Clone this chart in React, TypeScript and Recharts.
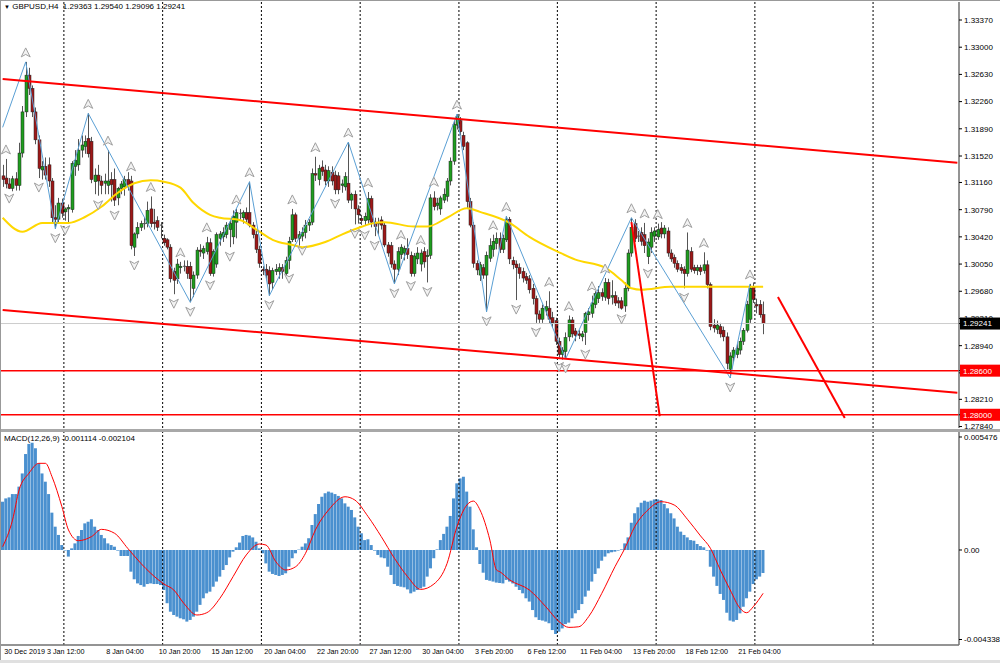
import React from "react";
import { ComposedChart, Bar, Line, Scatter, XAxis, YAxis, ReferenceLine } from "recharts";

// GBPUSD H4 candles: [open, high, low, close]
const ohlc: [number, number, number, number][] = [
  [1.3125, 1.3140, 1.3110, 1.3120], [1.3122, 1.3148, 1.3108, 1.3114], [1.3114, 1.3122, 1.3107, 1.3108], [1.3108, 1.3125, 1.3104, 1.3121], [1.3121, 1.3130, 1.3105, 1.3112],
  [1.3112, 1.3170, 1.3105, 1.3156], [1.3156, 1.3220, 1.3150, 1.3212], [1.3212, 1.3280, 1.3205, 1.3262], [1.3262, 1.3272, 1.3235, 1.3244], [1.3244, 1.3248, 1.3205, 1.3212],
  [1.3212, 1.3218, 1.3168, 1.3174], [1.3174, 1.3180, 1.3122, 1.3135], [1.3133, 1.3145, 1.3120, 1.3138], [1.3138, 1.3150, 1.3120, 1.3126], [1.3140, 1.3150, 1.3110, 1.3118],
  [1.3118, 1.3122, 1.3060, 1.3068], [1.3068, 1.3085, 1.3053, 1.3066], [1.3066, 1.3095, 1.3060, 1.3088], [1.3088, 1.3094, 1.3068, 1.3074], [1.3076, 1.3082, 1.3064, 1.3080],
  [1.3080, 1.3086, 1.3062, 1.3082], [1.3079, 1.3145, 1.3075, 1.3142], [1.3138, 1.3160, 1.3125, 1.3146], [1.3140, 1.3175, 1.3132, 1.3160], [1.3160, 1.3180, 1.3150, 1.3167],
  [1.3165, 1.3180, 1.3155, 1.3172], [1.3176, 1.3210, 1.3150, 1.3155], [1.3172, 1.3178, 1.3115, 1.3120], [1.3117, 1.3135, 1.3100, 1.3126], [1.3126, 1.3140, 1.3098, 1.3118],
  [1.3118, 1.3125, 1.3100, 1.3112], [1.3115, 1.3128, 1.3100, 1.3118], [1.3112, 1.3160, 1.3100, 1.3118], [1.3120, 1.3130, 1.3090, 1.3113], [1.3120, 1.3135, 1.3084, 1.3092],
  [1.3095, 1.3110, 1.3085, 1.3108], [1.3108, 1.3118, 1.3100, 1.3114], [1.3110, 1.3125, 1.3098, 1.3120], [1.3120, 1.3130, 1.3105, 1.3112], [1.3118, 1.3125, 1.3025, 1.3030],
  [1.3028, 1.3048, 1.3016, 1.3046], [1.3046, 1.3062, 1.3040, 1.3055], [1.3055, 1.3064, 1.3050, 1.3060], [1.3059, 1.3068, 1.3052, 1.3060], [1.3060, 1.3090, 1.3055, 1.3078],
  [1.3080, 1.3097, 1.3055, 1.3060], [1.3062, 1.3080, 1.3052, 1.3060], [1.3064, 1.3070, 1.3050, 1.3055], [1.3058, 1.3062, 1.3040, 1.3058], [1.3040, 1.3045, 1.3030, 1.3034],
  [1.3038, 1.3040, 1.3025, 1.3028], [1.3028, 1.3032, 1.2980, 1.2985], [1.2995, 1.3000, 1.2964, 1.2983], [1.2985, 1.3012, 1.2978, 1.3005], [1.3000, 1.3008, 1.2992, 1.3002],
  [1.3002, 1.3010, 1.2995, 1.3001], [1.3002, 1.3010, 1.2985, 1.2992], [1.3002, 1.3008, 1.2953, 1.2985], [1.2972, 1.2995, 1.2960, 1.2990], [1.2990, 1.3028, 1.2985, 1.3024],
  [1.3024, 1.3032, 1.3015, 1.3022], [1.3020, 1.3030, 1.3012, 1.3026], [1.3022, 1.3042, 1.3018, 1.3034], [1.3034, 1.3040, 1.2989, 1.2992], [1.2992, 1.3025, 1.2988, 1.3022],
  [1.3005, 1.3048, 1.3000, 1.3045], [1.3040, 1.3050, 1.3030, 1.3046], [1.3042, 1.3055, 1.3035, 1.3048], [1.3045, 1.3062, 1.3040, 1.3058], [1.3052, 1.3065, 1.3028, 1.3060],
  [1.3042, 1.3078, 1.3032, 1.3070], [1.3062, 1.3080, 1.3040, 1.3075], [1.3073, 1.3080, 1.3065, 1.3074], [1.3068, 1.3078, 1.3060, 1.3075], [1.3075, 1.3082, 1.3062, 1.3066],
  [1.3075, 1.3117, 1.3055, 1.3058], [1.3058, 1.3062, 1.3040, 1.3045], [1.3045, 1.3050, 1.3020, 1.3025], [1.3025, 1.3030, 1.3000, 1.3006], [1.2998, 1.3002, 1.2990, 1.2996],
  [1.2998, 1.3005, 1.2985, 1.2990], [1.2996, 1.3002, 1.2962, 1.2978], [1.2980, 1.3000, 1.2970, 1.2996], [1.2995, 1.3005, 1.2990, 1.2998], [1.2995, 1.3006, 1.2985, 1.3000],
  [1.3000, 1.3005, 1.2985, 1.2995], [1.2992, 1.3015, 1.2985, 1.3010], [1.3010, 1.3042, 1.2998, 1.3036], [1.3038, 1.3080, 1.3035, 1.3072], [1.3072, 1.3075, 1.3035, 1.3040],
  [1.3040, 1.3050, 1.3030, 1.3045], [1.3043, 1.3055, 1.3036, 1.3048], [1.3048, 1.3065, 1.3040, 1.3058], [1.3058, 1.3066, 1.3050, 1.3062], [1.3062, 1.3135, 1.3058, 1.3128],
  [1.3128, 1.3151, 1.3118, 1.3126], [1.3120, 1.3140, 1.3112, 1.3135], [1.3137, 1.3146, 1.3125, 1.3131], [1.3133, 1.3140, 1.3112, 1.3118], [1.3118, 1.3138, 1.3110, 1.3132],
  [1.3130, 1.3138, 1.3112, 1.3118], [1.3126, 1.3132, 1.3100, 1.3106], [1.3125, 1.3130, 1.3100, 1.3106], [1.3112, 1.3120, 1.3102, 1.3114], [1.3110, 1.3130, 1.3105, 1.3124],
  [1.3115, 1.3171, 1.3088, 1.3092], [1.3092, 1.3102, 1.3080, 1.3100], [1.3100, 1.3105, 1.3059, 1.3080], [1.3080, 1.3085, 1.3060, 1.3072], [1.3067, 1.3072, 1.3058, 1.3064],
  [1.3064, 1.3075, 1.3057, 1.3070], [1.3065, 1.3103, 1.3060, 1.3094], [1.3094, 1.3098, 1.3055, 1.3062], [1.3062, 1.3068, 1.3043, 1.3056], [1.3060, 1.3068, 1.3045, 1.3060],
  [1.3065, 1.3070, 1.3052, 1.3058], [1.3058, 1.3062, 1.3028, 1.3031], [1.3031, 1.3035, 1.3015, 1.3020], [1.3030, 1.3035, 1.3000, 1.3005], [1.3005, 1.3010, 1.2978, 1.2998],
  [1.2998, 1.3028, 1.2990, 1.3022], [1.3018, 1.3032, 1.3012, 1.3028], [1.3020, 1.3030, 1.3010, 1.3026], [1.3026, 1.3040, 1.3012, 1.3018], [1.3017, 1.3022, 1.2988, 1.2992],
  [1.2992, 1.3020, 1.2988, 1.3016], [1.3012, 1.3028, 1.3005, 1.3020], [1.3005, 1.3025, 1.2995, 1.3020], [1.3022, 1.3028, 1.3000, 1.3008], [1.3015, 1.3025, 1.2980, 1.3017],
  [1.3017, 1.3100, 1.3012, 1.3095], [1.3095, 1.3104, 1.3078, 1.3083], [1.3085, 1.3095, 1.3078, 1.3088], [1.3080, 1.3098, 1.3072, 1.3095], [1.3092, 1.3108, 1.3088, 1.3100],
  [1.3097, 1.3122, 1.3090, 1.3118], [1.3118, 1.3150, 1.3112, 1.3145], [1.3145, 1.3200, 1.3140, 1.3195], [1.3194, 1.3209, 1.3188, 1.3206], [1.3200, 1.3205, 1.3180, 1.3185],
  [1.3180, 1.3185, 1.3160, 1.3165], [1.3170, 1.3172, 1.3080, 1.3090], [1.3090, 1.3095, 1.3055, 1.3058], [1.3058, 1.3062, 1.3000, 1.3006], [1.3006, 1.3010, 1.2990, 1.2997],
  [1.2990, 1.3008, 1.2982, 1.3004], [1.3000, 1.3005, 1.2985, 1.2990], [1.2990, 1.3022, 1.2940, 1.3017], [1.3013, 1.3040, 1.3008, 1.3030], [1.3025, 1.3045, 1.3015, 1.3036],
  [1.3033, 1.3048, 1.3025, 1.3040], [1.3040, 1.3048, 1.3020, 1.3025], [1.3025, 1.3045, 1.3020, 1.3040], [1.3038, 1.3070, 1.3035, 1.3066], [1.3066, 1.3069, 1.3005, 1.3012],
  [1.3010, 1.3015, 1.2998, 1.3004], [1.3005, 1.3010, 1.2956, 1.3000], [1.3000, 1.3006, 1.2985, 1.2992], [1.2995, 1.3000, 1.2980, 1.2986], [1.2988, 1.2993, 1.2978, 1.2983],
  [1.2985, 1.2990, 1.2965, 1.2970], [1.2972, 1.2978, 1.2950, 1.2958], [1.2958, 1.2962, 1.2925, 1.2937], [1.2937, 1.2942, 1.2925, 1.2930], [1.2930, 1.2950, 1.2925, 1.2945],
  [1.2942, 1.2955, 1.2935, 1.2947], [1.2945, 1.2968, 1.2925, 1.2930], [1.2932, 1.2940, 1.2918, 1.2925], [1.2928, 1.2932, 1.2895, 1.2900], [1.2900, 1.2905, 1.2878, 1.2882],
  [1.2882, 1.2892, 1.2875, 1.2888], [1.2886, 1.2912, 1.2876, 1.2905], [1.2906, 1.2935, 1.2900, 1.2929], [1.2929, 1.2933, 1.2905, 1.2910], [1.2914, 1.2918, 1.2900, 1.2908],
  [1.2910, 1.2915, 1.2903, 1.2908], [1.2906, 1.2914, 1.2900, 1.2910], [1.2912, 1.2940, 1.2895, 1.2938], [1.2936, 1.2945, 1.2928, 1.2940], [1.2938, 1.2962, 1.2932, 1.2952],
  [1.2950, 1.2968, 1.2945, 1.2965], [1.2958, 1.2975, 1.2952, 1.2966], [1.2966, 1.2972, 1.2955, 1.2961], [1.2960, 1.2986, 1.2955, 1.2980], [1.2980, 1.2985, 1.2950, 1.2958],
  [1.2960, 1.2983, 1.2950, 1.2962], [1.2962, 1.2968, 1.2948, 1.2952], [1.2955, 1.2960, 1.2945, 1.2952], [1.2955, 1.2960, 1.2943, 1.2945], [1.2948, 1.2980, 1.2940, 1.2972],
  [1.2972, 1.3025, 1.2968, 1.3020], [1.3020, 1.3068, 1.3015, 1.3055], [1.3060, 1.3066, 1.3035, 1.3040], [1.3042, 1.3050, 1.3035, 1.3043], [1.3048, 1.3055, 1.3030, 1.3036],
  [1.3045, 1.3061, 1.3020, 1.3030], [1.3015, 1.3040, 1.3005, 1.3035], [1.3028, 1.3055, 1.3020, 1.3048], [1.3043, 1.3055, 1.3035, 1.3050], [1.3042, 1.3060, 1.3038, 1.3052],
  [1.3054, 1.3062, 1.3040, 1.3046], [1.3046, 1.3058, 1.3040, 1.3054], [1.3050, 1.3055, 1.3015, 1.3020], [1.3020, 1.3025, 1.3008, 1.3012], [1.3014, 1.3018, 1.3000, 1.3006],
  [1.3006, 1.3010, 1.2994, 1.2998], [1.3000, 1.3005, 1.2992, 1.2996], [1.2998, 1.3002, 1.2972, 1.2992], [1.2992, 1.3048, 1.2988, 1.3024], [1.3022, 1.3028, 1.2994, 1.2998],
  [1.3000, 1.3004, 1.2992, 1.2996], [1.2996, 1.3004, 1.2990, 1.3000], [1.3000, 1.3004, 1.2990, 1.2995], [1.2996, 1.3021, 1.2992, 1.3004], [1.3004, 1.3010, 1.2972, 1.2977],
  [1.2977, 1.2980, 1.2915, 1.2920], [1.2922, 1.2930, 1.2912, 1.2918], [1.2916, 1.2928, 1.2910, 1.2922], [1.2920, 1.2925, 1.2905, 1.2910], [1.2915, 1.2920, 1.2900, 1.2906],
  [1.2906, 1.2912, 1.2862, 1.2870], [1.2862, 1.2885, 1.2850, 1.2880], [1.2878, 1.2892, 1.2872, 1.2888], [1.2882, 1.2896, 1.2877, 1.2890], [1.2888, 1.2905, 1.2882, 1.2900],
  [1.2900, 1.2918, 1.2895, 1.2915], [1.2915, 1.2955, 1.2912, 1.2950], [1.2930, 1.2978, 1.2925, 1.2972], [1.2974, 1.2980, 1.2952, 1.2957], [1.2950, 1.2958, 1.2938, 1.2948],
  [1.2950, 1.2956, 1.2932, 1.2936], [1.29363, 1.2954, 1.29096, 1.29241],
];

// moving average (yellow), read as [bar, price]
const maPoints: [number, number][] = [
  [0, 1.3068], [6, 1.3049], [12, 1.3061], [20, 1.3061], [25, 1.3069], [30, 1.3083], [35, 1.3102], [40, 1.3115],
  [45, 1.3119], [49, 1.3117], [54, 1.3109], [58, 1.3088], [63, 1.3072], [66, 1.3068], [72, 1.3065], [78, 1.3049],
  [82, 1.3038], [88, 1.3031], [91, 1.3028], [98, 1.3035], [103, 1.3045], [108, 1.3054], [112, 1.3060], [116, 1.3062],
  [125, 1.3056], [129, 1.3056], [135, 1.3068], [141, 1.3081], [145, 1.3076], [154, 1.3061], [160, 1.3042], [169, 1.3021],
  [174, 1.3011], [183, 1.3000], [188, 1.2983], [191, 1.2972], [194, 1.2970], [203, 1.2974], [213, 1.2974], [223, 1.2974],
  [231, 1.2974],
];

const zigzag: [number, number][] = [
  [0, 1.3191], [7, 1.3280], [16, 1.3053], [26, 1.3210], [57, 1.2953], [75, 1.3117], [81, 1.2962], [105, 1.3171],
  [119, 1.2978], [138, 1.3209], [147, 1.2940], [153, 1.3070], [171, 1.2876], [191, 1.3068], [221, 1.2850], [227, 1.2978],
];

const upFractals: [number, number][] = [
  [1, 1.3148], [7, 1.3280], [26, 1.3210], [32, 1.3160], [39, 1.3125], [45, 1.3097], [54, 1.3008], [62, 1.3042],
  [71, 1.3080], [75, 1.3117], [88, 1.3080], [95, 1.3151], [105, 1.3171], [111, 1.3103], [121, 1.3032], [127, 1.3025],
  [131, 1.3104], [138, 1.3209], [149, 1.3045], [153, 1.3070], [166, 1.2968], [172, 1.2935], [179, 1.2962], [183, 1.2986],
  [191, 1.3068], [195, 1.3061], [199, 1.3060], [208, 1.3048], [213, 1.3021], [227, 1.2978],
];

const downFractals: [number, number][] = [
  [2, 1.3107], [11, 1.3122], [16, 1.3053], [19, 1.3064], [29, 1.3098], [34, 1.3084], [40, 1.3016], [52, 1.2964],
  [57, 1.2953], [63, 1.2989], [69, 1.3028], [81, 1.2962], [87, 1.2998], [91, 1.3036], [101, 1.3100], [107, 1.3059],
  [110, 1.3057], [113, 1.3043], [119, 1.2978], [124, 1.2988], [129, 1.2980], [147, 1.2940], [156, 1.2956], [162, 1.2925],
  [169, 1.2878], [171, 1.2876], [177, 1.2895], [188, 1.2943], [196, 1.3005], [207, 1.2972], [221, 1.2850],
];

// drawn objects: [bar1, price1, bar2, price2]
const trendLines: [number, number, number, number][] = [
  [0, 1.32567, 290, 1.31429],
  [0, 1.29425, 290, 1.28301],
  [191, 1.30622, 199.6, 1.2798],
  [235.5, 1.29602, 255.8, 1.27956],
];
const levels = [1.286, 1.28];
const lastPrice = 1.29241;

const macdHist: number[] = [
  0.00234, 0.0025, 0.00255, 0.00271, 0.00271, 0.00307, 0.00371, 0.00465, 0.00514, 0.0052,
  0.00493, 0.0042, 0.00371, 0.00331, 0.00271, 0.00181, 0.00113, 0.00073, 0.00024, -0.00003,
  -0.00032, 0.00008, 0.00032, 0.00068, 0.00097, 0.00129, 0.00137, 0.00149, 0.00113, 0.00097,
  0.00073, 0.00057, 0.00032, 0.00024, 0.00016, -0.00003, -0.00029, -0.00029, -0.00029, -0.00105,
  -0.00142, -0.00162, -0.0017, -0.00178, -0.00165, -0.00162, -0.00165, -0.00165, -0.0017, -0.00194,
  -0.00258, -0.00299, -0.00315, -0.00323, -0.00331, -0.00336, -0.00347, -0.00339, -0.00323, -0.00299,
  -0.00266, -0.00234, -0.0021, -0.00202, -0.00178, -0.00153, -0.00129, -0.00097, -0.00073, -0.00036,
  -0.00008, 0.00013, 0.00036, 0.00068, 0.00073, 0.0007, 0.00061, 0.0004, 0.00008, -0.00016,
  -0.00065, -0.00105, -0.00116, -0.00121, -0.00126, -0.00121, -0.00113, -0.00081, -0.0004, -0.00016,
  0.00002, 0.00016, 0.00032, 0.00057, 0.00121, 0.00174, 0.00223, 0.00258, 0.00275, 0.00283,
  0.00278, 0.00271, 0.00262, 0.0025, 0.00226, 0.0021, 0.00194, 0.00158, 0.00113, 0.00081,
  0.00048, 0.00052, 0.00024, -0.00003, -0.00024, -0.00036, -0.0004, -0.00081, -0.00121, -0.00165,
  -0.00174, -0.00178, -0.00181, -0.00191, -0.0021, -0.00202, -0.00194, -0.00186, -0.00178, -0.00129,
  -0.00089, -0.0004, 0.00003, 0.00048, 0.00078, 0.00113, 0.00165, 0.0025, 0.00323, 0.00347,
  0.00355, 0.00283, 0.0021, 0.001, 0.00013, -0.00068, -0.0011, -0.00145, -0.00149, -0.00153,
  -0.00158, -0.0016, -0.00162, -0.00145, -0.00153, -0.00162, -0.00178, -0.00194, -0.0021, -0.00234,
  -0.0025, -0.00291, -0.00326, -0.00339, -0.00342, -0.00347, -0.00355, -0.00388, -0.00407, -0.00396,
  -0.0038, -0.00359, -0.00352, -0.00331, -0.00307, -0.00291, -0.00262, -0.00226, -0.00197, -0.00153,
  -0.00116, -0.00089, -0.00052, -0.00032, -0.00016, -0.00011, -0.00008, -0.00003, 0.00003, 0.00032,
  0.00061, 0.00132, 0.00178, 0.00207, 0.00229, 0.00239, 0.00234, 0.00239, 0.00245, 0.00245,
  0.00242, 0.00223, 0.00202, 0.00178, 0.00153, 0.00113, 0.00089, 0.00073, 0.00061, 0.00048,
  0.00045, 0.00029, 0.00019, 0.00013, -0.00003, -0.00081, -0.00129, -0.00174, -0.00213, -0.00242,
  -0.00304, -0.00342, -0.00347, -0.00339, -0.00307, -0.00275, -0.00234, -0.00202, -0.00165, -0.00142,
  -0.00129, -0.001114,
];

const macdSignal: [number, number][] = [
  [0, 0.00016], [3, 0.00145], [5, 0.00291], [8, 0.00372], [11, 0.0042], [13, 0.0042], [15, 0.00355], [18, 0.0021],
  [20, 0.00097], [23, 0.00045], [27, 0.00065], [30, 0.001], [34, 0.00081], [38, 0.00008], [42, -0.00065], [45, -0.00113],
  [49, -0.00165], [52, -0.00194], [55, -0.00258], [59, -0.00315], [62, -0.00304], [66, -0.00234], [70, -0.00129], [74, -0.00024],
  [78, 0.00029], [80, 0.00024], [83, -0.00057], [86, -0.00097], [89, -0.00081], [92, -0.00016], [95, 0.00097], [99, 0.00194],
  [104, 0.00258], [107, 0.00242], [111, 0.00162], [115, 0.00065], [119, -0.0004], [123, -0.00129], [127, -0.00191], [131, -0.00165],
  [135, -0.00065], [138, 0.00113], [141, 0.00218], [143, 0.00237], [145, 0.00194], [148, 0.00048], [150, -0.00097], [151, -0.00105],
  [154, -0.00145], [160, -0.00194], [165, -0.00275], [169, -0.00347], [172, -0.00375], [175, -0.00372], [178, -0.00323], [182, -0.0021],
  [186, -0.00081], [189, 0.00008], [192, 0.00113], [196, 0.00194], [200, 0.00234], [204, 0.00218], [208, 0.00149], [212, 0.00068],
  [215, 0.00008], [218, -0.00097], [221, -0.00194], [224, -0.00283], [226, -0.00304], [228, -0.00275], [231, -0.0021],
];

const priceTicks = [1.3337, 1.33, 1.3263, 1.3226, 1.3189, 1.3152, 1.3116, 1.3079, 1.3042, 1.3005, 1.2968, 1.2931, 1.2894, 1.2857, 1.2821, 1.2784];
const macdTicks = [0.005476, 0, -0.004338];
const timeLabelIdx = [0, 13, 31, 47, 63, 79, 95, 111, 127, 143, 159, 175, 191, 207, 223];
const timeLabels = ["30 Dec 2019", "3 Jan 12:00", "8 Jan 04:00", "10 Jan 20:00", "15 Jan 12:00", "20 Jan 04:00", "22 Jan 20:00", "27 Jan 12:00", "30 Jan 04:00", "3 Feb 20:00", "6 Feb 12:00", "11 Feb 04:00", "13 Feb 20:00", "18 Feb 12:00", "21 Feb 04:00"];
const gridIdx = [18.6, 48.6, 78.6, 108.6, 138.6, 168.5, 198.5, 228.5, 264.4];

const FONT = "'Liberation Sans', Arial, sans-serif";
const X_DOMAIN: [number, number] = [-0.5, 290.5];

// price tags on the right scale are drawn last so they sit on top of the plain ticks
const tagColors: Record<string, string> = { [lastPrice.toFixed(5)]: "#000", [levels[0].toFixed(5)]: "#ff0000", [levels[1].toFixed(5)]: "#ff0000" };
const axisTicks = [...priceTicks, ...levels, lastPrice];

const candleRows = ohlc.map(([o, h, l, c], i) => ({ i, o, h, l, c, range: [l, h] }));
const toRows = (pts: [number, number][]) => pts.map(([i, v]) => ({ i, v }));
const histRows = macdHist.map((h, i) => ({ i, h }));

function Candle(props: any) {
  const { x, y, width, height, payload } = props;
  if (x == null || !payload) return null;
  const { o, h, l, c } = payload;
  const top = height < 0 ? y + height : y;
  const hh = Math.abs(height);
  const k = h > l ? hh / (h - l) : 0;
  const bTop = top + (h - Math.max(o, c)) * k;
  const bBot = top + (h - Math.min(o, c)) * k;
  const cx = Math.round(x + width / 2) + 0.5;
  const fill = c > o ? "#1f9e1f" : c < o ? "#9e1818" : "#808080";
  return (
    <g>
      <line x1={cx} x2={cx} y1={top} y2={top + hh} stroke="#555" strokeWidth={1} />
      {bBot - bTop < 1 ? (
        <line x1={cx - 1.5} x2={cx + 1.5} y1={bTop} y2={bTop} stroke="#555" strokeWidth={1} />
      ) : (
        <rect x={cx - 1.5} y={bTop} width={3} height={bBot - bTop} fill={fill} stroke="#222" strokeWidth={0.5} />
      )}
    </g>
  );
}

function Fractal(props: any) {
  const { cx, cy, dir } = props;
  if (cx == null) return null;
  const up = dir === "up";
  const y0 = up ? cy - 9 : cy + 9;
  const s = up ? 1 : -1;
  const d = `M${cx},${y0 - 5 * s} L${cx + 4.5},${y0 + 4 * s} L${cx},${y0 + 1.5 * s} L${cx - 4.5},${y0 + 4 * s} Z`;
  return <path d={d} fill="#f2f2f2" stroke="#a0a0a0" strokeWidth={1} />;
}

function PriceTick(props: any) {
  const { x, y, payload } = props;
  const label = Number(payload.value).toFixed(5);
  const bg = tagColors[label];
  if (bg) {
    return (
      <g>
        <rect x={x - 4} y={y - 6} width={40} height={12} fill={bg} />
        <text x={x - 1} y={y} dy="0.355em" fontSize={8} fill="#fff" fontFamily={FONT}>{label}</text>
      </g>
    );
  }
  return (
    <text x={x} y={y} dy="0.355em" fontSize={8} fill="#000" fontFamily={FONT}>{label}</text>
  );
}

function TimeTick(props: any) {
  const { x, y, payload } = props;
  const k = timeLabelIdx.indexOf(payload.value);
  if (k < 0) return null;
  return (
    <text x={x + 1.5} y={y + 1} dy="0.71em" fontSize={7.2} fill="#000" textAnchor="start" fontFamily={FONT}>
      {timeLabels[k]}
    </text>
  );
}

export default function App() {
  return (
    <div style={{ position: "absolute", left: 0, top: 0, width: 1000, height: 663, background: "#fff", overflow: "hidden", fontFamily: FONT }}>
      <div style={{ position: "absolute", left: 0, top: 0 }}>
        <ComposedChart width={1000} height={430} data={candleRows} margin={{ top: 2, right: 0, bottom: 2, left: 1 }}>
          <XAxis type="number" dataKey="i" domain={X_DOMAIN} allowDataOverflow hide />
          <YAxis
            orientation="right"
            width={41}
            domain={[1.2782, 1.33615]}
            allowDataOverflow
            ticks={axisTicks}
            interval={0}
            tick={<PriceTick />}
            tickSize={3}
            tickMargin={2}
            axisLine={{ stroke: "#707070", strokeWidth: 1.5 }}
            tickLine={{ stroke: "#000" }}
          />
          {gridIdx.map((g) => (
            <ReferenceLine key={g} x={g} stroke="#000" strokeDasharray="2 2" />
          ))}
          <ReferenceLine y={lastPrice} stroke="#cccccc" />
          <Bar dataKey="range" barSize={3} shape={<Candle />} isAnimationActive={false} />
          <Line data={toRows(maPoints)} dataKey="v" type="monotone" stroke="#ffd700" strokeWidth={2} dot={false} isAnimationActive={false} />
          <Line data={toRows(zigzag)} dataKey="v" type="linear" stroke="#5a9fd4" strokeWidth={1} dot={false} isAnimationActive={false} />
          <Scatter data={toRows(upFractals)} dataKey="v" shape={<Fractal dir="up" />} isAnimationActive={false} />
          <Scatter data={toRows(downFractals)} dataKey="v" shape={<Fractal dir="down" />} isAnimationActive={false} />
          {levels.map((lv) => (
            <ReferenceLine key={lv} y={lv} stroke="#ff0000" strokeWidth={1.5} />
          ))}
          {trendLines.map(([x1, y1, x2, y2], k) => (
            <ReferenceLine key={k} segment={[{ x: x1, y: y1 }, { x: x2, y: y2 }]} stroke="#ff0000" strokeWidth={2} ifOverflow="visible" />
          ))}
        </ComposedChart>
      </div>

      <div style={{ position: "absolute", left: 0, top: 429, width: 1000, height: 3, background: "#a8a8a8" }} />

      <div style={{ position: "absolute", left: 0, top: 432 }}>
        <ComposedChart width={1000} height={231} data={histRows} margin={{ top: 0, right: 0, bottom: 0, left: 1 }}>
          <XAxis
            type="number"
            dataKey="i"
            domain={X_DOMAIN}
            allowDataOverflow
            ticks={timeLabelIdx}
            interval={0}
            height={18}
            tickSize={0}
            tickMargin={3}
            tick={<TimeTick />}
            axisLine={{ stroke: "#707070", strokeWidth: 1.5 }}
          />
          <YAxis
            orientation="right"
            width={41}
            domain={[-0.004604, 0.005718]}
            allowDataOverflow
            ticks={macdTicks}
            interval={0}
            tickFormatter={(v: number) => (v === 0 ? "0.00" : v.toFixed(6))}
            tick={{ fontSize: 8, fill: "#000", fontFamily: FONT }}
            tickSize={3}
            tickMargin={2}
            axisLine={{ stroke: "#707070", strokeWidth: 1.5 }}
            tickLine={{ stroke: "#000" }}
          />
          {gridIdx.map((g) => (
            <ReferenceLine key={g} x={g} stroke="#000" strokeDasharray="2 2" />
          ))}
          <Bar dataKey="h" barSize={3} fill="#4a90cf" isAnimationActive={false} />
          <Line data={toRows(macdSignal)} dataKey="v" type="monotone" stroke="#ff0000" strokeWidth={1} dot={false} isAnimationActive={false} />
        </ComposedChart>
      </div>

      <div style={{ position: "absolute", left: 4, top: 2, fontSize: 8, color: "#000", whiteSpace: "pre" }}>
        <span style={{ fontSize: 6 }}>▼</span> GBPUSD,H4  1.29363 1.29540 1.29096 1.29241
      </div>
      <div style={{ position: "absolute", left: 4, top: 434, fontSize: 8, color: "#000", whiteSpace: "pre" }}>
        MACD(12,26,9) -0.001114 -0.002104
      </div>
      <div style={{ position: "absolute", left: 0, top: 0, width: 1000, height: 1, background: "#999" }} />
      <div style={{ position: "absolute", left: 0, top: 0, width: 1, height: 663, background: "#999" }} />
      <div style={{ position: "absolute", left: 0, top: 660, width: 1000, height: 3, background: "#e0e0e0" }} />
    </div>
  );
}
